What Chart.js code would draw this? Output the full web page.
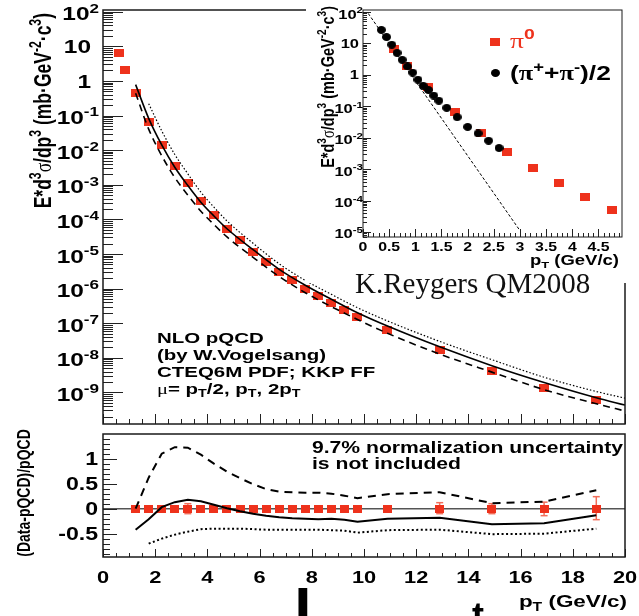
<!DOCTYPE html>
<html lang="en">
<head>
<meta charset="UTF-8">
<title>pi0 cross section vs NLO pQCD</title>
<script src="https://cdn.jsdelivr.net/npm/chart.js@4.4.1/dist/chart.umd.min.js"></script>
<style>
  body { margin: 0; width: 639px; height: 616px; overflow: hidden; position: relative; background: #fff; }
  canvas { position: absolute; }
  #mainChart { left: 0; top: 0; }
  #ratioChart { left: 0; top: 428px; }
  #insetChart { left: 306px; top: 0; background: #fff; }
  .credit { position: absolute; left: 355px; top: 269px; font: 29px "Liberation Serif", "Times New Roman", serif; line-height: 1; color: #111; white-space: nowrap; }
  .frag { position: absolute; font-family: "Liberation Sans", Arial, sans-serif; font-weight: bold; line-height: 1; color: #000; }
</style>
</head>
<body>
<canvas id="mainChart" width="639" height="430"></canvas>
<canvas id="ratioChart" width="639" height="188"></canvas>
<canvas id="insetChart" width="333" height="283"></canvas>
<div class="credit">K.Reygers QM2008</div>
<div class="frag" style="left:294px;top:581px;font-size:64px">l</div>
<div class="frag" style="left:472px;top:598px;font-size:36px">t</div>

<script>
// ---- data ----

// pi0 invariant cross section, main panel (pT in GeV/c, mb GeV^-2 c^3)
const ptPi0 = [0.6, 0.85, 1.25, 1.75, 2.25, 2.75, 3.25, 3.75, 4.25, 4.75, 5.25, 5.75, 6.25, 6.75, 7.25, 7.75, 8.25, 8.75, 9.25, 9.75, 10.9, 12.9, 14.9, 16.9, 18.9];
const xsPi0 = [6.6, 2.0, 0.45, 0.067, 0.0145, 0.0035, 1.1e-3, 3.5e-4, 1.35e-4, 5.4e-5, 2.45e-5, 1.15e-5, 5.8e-6, 3.0e-6, 1.75e-6, 1.0e-6, 5.9e-7, 3.8e-7, 2.4e-7, 1.47e-7, 6.5e-8, 1.72e-8, 4.1e-9, 1.37e-9, 6.1e-10];

// NLO pQCD curves, mu = pT/2 (dotted), pT (solid), 2pT (dashed)
const ptNlo = [1.25, 1.75, 2.25, 2.75, 3.25, 3.75, 4.25, 4.75, 5.75, 6.75, 7.75, 8.75, 9.75, 10.9, 12.9, 14.9, 16.9, 18.9, 20];
const nloHalfPt = [null, 0.22, 0.036, 7.5e-3, 2.07e-3, 6.1e-4, 2.25e-4, 9.0e-5, 2.03e-5, 5.2e-6, 1.72e-6, 6.8e-7, 2.8e-7, 1.16e-7, 2.97e-8, 8.8e-9, 2.74e-9, 1.06e-9, 6.8e-10];
const nloPt = [0.78, 0.083, 0.0141, 3.2e-3, 9.5e-4, 3.13e-4, 1.25e-4, 5.35e-5, 1.33e-5, 3.6e-6, 1.25e-6, 4.9e-7, 2.0e-7, 8.25e-8, 2.07e-8, 5.9e-9, 1.93e-9, 7.0e-10, 4.3e-10];
const nloTwoPt = [0.44, 0.0405, 6.9e-3, 1.62e-3, 5.0e-4, 1.72e-4, 7.1e-5, 3.1e-5, 8.0e-6, 2.24e-6, 7.6e-7, 3.0e-7, 1.28e-7, 5.1e-8, 1.28e-8, 3.85e-9, 1.2e-9, 4.7e-10, 2.9e-10];

// (Data-pQCD)/pQCD panel
const ptRatio = [1.25, 1.75, 2.25, 2.75, 3.25, 3.75, 4.25, 4.75, 5.25, 5.75, 6.25, 6.75, 7.25, 7.75, 8.25, 8.75, 9.25, 9.75, 10.9, 12.9, 14.9, 16.9, 18.9];
const ratioData = [0, 0, 0, 0, 0, 0, 0, 0, 0, 0, 0, 0, 0, 0, 0, 0, 0, 0, 0, 0, 0, 0, 0];
const ratioErrUp = [0.03, 0.03, 0.03, 0.03, 0.1, 0.03, 0.03, 0.03, 0.03, 0.03, 0.03, 0.03, 0.03, 0.03, 0.03, 0.03, 0.03, 0.03, 0.05, 0.12, 0.1, 0.13, 0.24];
const ratioErrDown = [0.03, 0.03, 0.03, 0.03, 0.1, 0.03, 0.03, 0.03, 0.03, 0.03, 0.03, 0.03, 0.03, 0.03, 0.03, 0.03, 0.03, 0.03, 0.05, 0.1, 0.1, 0.14, 0.22];
const ratioHalfPt = [null, -0.7, -0.6, -0.52, -0.46, -0.41, -0.4, -0.4, -0.4, -0.41, -0.42, -0.42, -0.42, -0.42, -0.42, -0.43, -0.44, -0.48, -0.43, -0.42, -0.51, -0.5, -0.4];
const ratioPt = [-0.42, -0.21, 0.03, 0.13, 0.18, 0.15, 0.08, 0.01, -0.05, -0.1, -0.14, -0.17, -0.19, -0.2, -0.21, -0.2, -0.22, -0.26, -0.2, -0.18, -0.31, -0.29, -0.13];
const ratioTwoPt = [0.0, 0.62, 1.1, 1.23, 1.22, 1.08, 0.9, 0.74, 0.61, 0.49, 0.39, 0.34, 0.33, 0.32, 0.32, 0.3, 0.26, 0.21, 0.29, 0.33, 0.11, 0.14, 0.37];
const zeroLineX = [0, 20];
const zeroLineY = [0, 0];

// inset: low pT pi0 and charged pions
const ptPi0Low = [0.6, 0.85, 1.25, 1.75, 2.25, 2.75, 3.25, 3.75, 4.25, 4.75];
const xsPi0Low = [6.5, 1.95, 0.42, 0.067, 0.014, 0.0034, 1.05e-3, 3.5e-4, 1.26e-4, 5.1e-5];
const ptPiCh = [0.35, 0.45, 0.55, 0.65, 0.75, 0.85, 0.95, 1.05, 1.15, 1.25, 1.35, 1.45, 1.6, 1.8, 2.0, 2.2, 2.4, 2.6];
const xsPiCh = [27, 16, 9.1, 5.0, 3.0, 1.85, 1.18, 0.70, 0.45, 0.33, 0.22, 0.15, 0.089, 0.045, 0.022, 0.0137, 0.008, 0.0047];
const ptExpLine = [0.1, 3.0];
const xsExpLine = [90, 1.1e-5];

// tick labels
const mainDecades = [2, 1, 0, -1, -2, -3, -4, -5, -6, -7, -8, -9];
const ptTicks = [0, 2, 4, 6, 8, 10, 12, 14, 16, 18, 20];
const ptTickLabels = ['0', '2', '4', '6', '8', '10', '12', '14', '16', '18', '20'];
const ratioTicks = [-0.5, 0, 0.5, 1];
const ratioTickLabels = ['-0.5', '0', '0.5', '1'];
const insetDecades = [2, 1, 0, -1, -2, -3, -4, -5];
const insetPtTicks = [0, 0.5, 1, 1.5, 2, 2.5, 3, 3.5, 4, 4.5];
const insetPtLabels = ['0', '0.5', '1', '1.5', '2', '2.5', '3', '3.5', '4', '4.5'];

// ---- drawing helpers ----
const SX = 1.32; // the figure is stretched sideways
const SANS = '"Liberation Sans", Arial, Helvetica, sans-serif';
const SERIF = '"Liberation Serif", "Times New Roman", serif';
const RED = 'rgb(238, 50, 28)';

function marker(w, h, color, round) {
  const c = document.createElement('canvas');
  c.width = w; c.height = h;
  const g = c.getContext('2d');
  g.fillStyle = color;
  if (round) {
    g.beginPath();
    g.ellipse(w / 2, h / 2, w / 2, h / 2, 0, 0, Math.PI * 2);
    g.fill();
  } else {
    g.fillRect(0, 0, w, h);
  }
  return c;
}
const redSquare = marker(10, 8, RED);
const redSquareSmall = marker(9, 8, RED);
const blackDot = marker(9, 8, '#000', true);

// text with super/subscripts, optionally rotated
function rich(ctx, parts, x, y, o) {
  const size = o.size;
  const font = p => `${p.normal ? '' : 'bold '}${(p.sup || p.sub) ? size * 0.7 : size}px ${p.face || SANS}`;
  let total = 0;
  const items = parts.map(p => {
    ctx.font = font(p);
    const it = { p, off: total };
    total += ctx.measureText(p.t).width;
    return it;
  });
  ctx.save();
  ctx.translate(x, y);
  ctx.scale(o.sx || SX, 1);
  if (o.rotate) ctx.rotate(o.rotate);
  const start = o.align === 'right' ? -total : o.align === 'center' ? -total / 2 : 0;
  ctx.textAlign = 'left';
  ctx.textBaseline = 'alphabetic';
  items.forEach(it => {
    ctx.font = font(it.p);
    ctx.fillStyle = it.p.color || o.color || '#000';
    const dy = it.p.sup ? -size * 0.42 : it.p.sub ? size * 0.22 : 0;
    ctx.fillText(it.p.t, start + it.off, dy);
  });
  ctx.restore();
}

const Y_TITLE = [
  { t: 'E*d' }, { t: '3', sup: true }, { t: 'σ', face: SERIF, normal: true }, { t: '/dp' }, { t: '3', sup: true },
  { t: ' (mb·GeV' }, { t: '-2', sup: true }, { t: '·c' }, { t: '3', sup: true }, { t: ')' }
];
const PT_TITLE = [{ t: 'p' }, { t: 'T', sub: true }, { t: ' (GeV/c)' }];

function range(from, to, step) {
  const out = [];
  for (let v = from; v <= to + step / 1000; v += step) out.push(Math.round(v * 1000) / 1000);
  return out;
}
function logMinors(e0, e1) {
  const out = [];
  for (let e = e0; e <= e1; e++) for (let k = 2; k <= 9; k++) out.push(k * Math.pow(10, e));
  return out;
}
function yTicks(chart, values, len) {
  const { ctx, chartArea: a, scales: { y } } = chart;
  ctx.save();
  ctx.strokeStyle = '#222';
  ctx.lineWidth = 1;
  ctx.beginPath();
  values.forEach(v => {
    if (v < y.min || v > y.max) return;
    const py = Math.round(y.getPixelForValue(v)) + 0.5;
    ctx.moveTo(a.left, py);
    ctx.lineTo(a.left + len, py);
  });
  ctx.stroke();
  ctx.restore();
}
function xTicks(chart, values, len) {
  const { ctx, chartArea: a, scales: { x } } = chart;
  ctx.save();
  ctx.strokeStyle = '#222';
  ctx.lineWidth = 1;
  ctx.beginPath();
  values.forEach(v => {
    if (v < x.min || v > x.max) return;
    const px = Math.round(x.getPixelForValue(v)) + 0.5;
    ctx.moveTo(px, a.bottom);
    ctx.lineTo(px, a.bottom - len);
  });
  ctx.stroke();
  ctx.restore();
}
function frame(chart, lw) {
  const { ctx, chartArea: a } = chart;
  ctx.save();
  ctx.strokeStyle = '#1a1a1a';
  ctx.lineWidth = lw;
  ctx.strokeRect(a.left, a.top, a.right - a.left, a.bottom - a.top);
  ctx.restore();
}
function decadeLabel(ctx, e, py, xPlain, xSup, size) {
  if (e === 1 || e === 0) {
    rich(ctx, [{ t: e ? '10' : '1' }], xPlain, py + size * 0.36, { size, align: 'right' });
  } else {
    rich(ctx, [{ t: '10' }, { t: String(e), sup: true }], xSup, py + size * 0.36 + 2, { size, align: 'right' });
  }
}

// ---- panel decorations ----
function mainDecor(chart) {
  const { ctx, scales: { y } } = chart;
  yTicks(chart, logMinors(-10, 1), 10);
  yTicks(chart, mainDecades.map(e => Math.pow(10, e)), 20);
  xTicks(chart, range(0, 20, 0.5), 5);
  xTicks(chart, ptTicks, 10);
  frame(chart, 1.5);
  mainDecades.forEach(e => decadeLabel(ctx, e, y.getPixelForValue(Math.pow(10, e)), 91, 99, 18.5));
  rich(ctx, Y_TITLE, 51, 13, { size: 17.5, rotate: -Math.PI / 2, align: 'right' });
  rich(ctx, [{ t: 'NLO pQCD' }], 157, 343, { size: 15.5 });
  rich(ctx, [{ t: '(by W.Vogelsang)' }], 157, 360, { size: 15.5 });
  rich(ctx, [{ t: 'CTEQ6M PDF; KKP FF' }], 157, 377, { size: 15.5 });
  rich(ctx, [
    { t: 'μ', face: SERIF, normal: true }, { t: '= p' }, { t: 'T', sub: true }, { t: '/2, p' },
    { t: 'T', sub: true }, { t: ', 2p' }, { t: 'T', sub: true }
  ], 157, 394, { size: 15.5 });
}

function ratioDecor(chart) {
  const { ctx, scales: { x, y } } = chart;
  yTicks(chart, range(-0.9, 1.4, 0.1), 7);
  yTicks(chart, ratioTicks, 14);
  xTicks(chart, range(0, 20, 0.5), 4);
  xTicks(chart, ptTicks, 8);
  frame(chart, 1.5);
  ratioTicks.forEach((v, i) => rich(ctx, [{ t: ratioTickLabels[i] }], 98, y.getPixelForValue(v) + 6.5, { size: 17.5, align: 'right' }));
  ptTicks.forEach((v, i) => rich(ctx, [{ t: ptTickLabels[i] }], x.getPixelForValue(v), 155, { size: 16.5, align: 'center' }));
  rich(ctx, PT_TITLE, 627, 179, { size: 17, align: 'right' });
  rich(ctx, [{ t: '(Data-pQCD)/pQCD' }], 30, 65, { size: 14, rotate: -Math.PI / 2, align: 'center' });
  rich(ctx, [{ t: '9.7% normalization uncertainty' }], 312, 25, { size: 16 });
  rich(ctx, [{ t: 'is not included' }], 312, 41, { size: 16 });
}

function insetDecor(chart) {
  const { ctx, scales: { x, y } } = chart;
  yTicks(chart, logMinors(-6, 1), 4);
  yTicks(chart, insetDecades.map(e => Math.pow(10, e)), 8);
  xTicks(chart, range(0, 4.9, 0.1), 4);
  xTicks(chart, insetPtTicks, 8);
  frame(chart, 1);
  insetDecades.forEach(e => decadeLabel(ctx, e, y.getPixelForValue(Math.pow(10, e)), 53, 57, 12.5));
  insetPtTicks.forEach((v, i) => rich(ctx, [{ t: insetPtLabels[i] }], x.getPixelForValue(v), 251, { size: 12, align: 'center' }));
  rich(ctx, PT_TITLE, 313, 265, { size: 14, align: 'right' });
  rich(ctx, Y_TITLE, 28, 6, { size: 14.5, rotate: -Math.PI / 2, align: 'right' });
  // legend
  ctx.drawImage(redSquare, 184, 38);
  ctx.drawImage(blackDot, 185, 69);
  rich(ctx, [{ t: 'π', face: SERIF, normal: true, color: RED }, { t: '0', sup: true, color: RED }], 204, 48, { size: 21 });
  rich(ctx, [
    { t: '(' }, { t: 'π', face: SERIF }, { t: '+', sup: true }, { t: '+' }, { t: 'π', face: SERIF },
    { t: '-', sup: true }, { t: ')/2' }
  ], 204, 80, { size: 20 });
}

// ---- charts ----
function pts(xs, ys) {
  return xs.map((x, i) => ({ x, y: ys[i] }));
}
function options(xMax, yType, yMin, yMax, padding) {
  return {
    responsive: false,
    animation: false,
    devicePixelRatio: 1,
    layout: { padding },
    plugins: { legend: { display: false }, tooltip: { enabled: false } },
    scales: {
      x: { type: 'linear', min: 0, max: xMax, display: false },
      y: { type: yType, min: yMin, max: yMax, display: false }
    }
  };
}
function curve(data, width, dash, extra) {
  return Object.assign({ data, showLine: true, borderColor: '#000', borderWidth: width, borderDash: dash, pointRadius: 0, fill: false }, extra);
}

new Chart(document.getElementById('mainChart'), {
  type: 'scatter',
  data: {
    datasets: [
      curve(pts(ptNlo, nloPt), 1.6, [], { cubicInterpolationMode: 'monotone' }),
      curve(pts(ptNlo, nloTwoPt), 1.6, [7, 5], { cubicInterpolationMode: 'monotone' }),
      curve(pts(ptNlo, nloHalfPt), 1.2, [1.5, 2], { cubicInterpolationMode: 'monotone' }),
      { data: pts(ptPi0, xsPi0), pointStyle: redSquare, pointRadius: 5 }
    ]
  },
  options: options(20, 'logarithmic', 1.22e-10, 112, { left: 103, right: 14, top: 10, bottom: 1 }),
  plugins: [{ id: 'mainDecor', afterDraw: mainDecor }]
});

const errBars = [];
ptRatio.forEach((x, i) => {
  errBars.push({ x, y: -ratioErrDown[i] }, { x, y: ratioErrUp[i] }, { x, y: null });
});

new Chart(document.getElementById('ratioChart'), {
  type: 'scatter',
  data: {
    datasets: [
      curve(pts(ptRatio, ratioPt), 2, []),
      curve(pts(ptRatio, ratioTwoPt), 2, [8, 6]),
      curve(pts(ptRatio, ratioHalfPt), 2, [2, 2.5]),
      { data: pts(ptRatio, ratioData), pointStyle: redSquareSmall, pointRadius: 5 },
      curve(errBars, 1.5, [], { borderColor: 'rgb(242, 110, 90)', pointStyle: 'line', pointRadius: 3.5, pointBorderWidth: 1.5, pointBorderColor: 'rgb(242, 110, 90)' }),
      curve(pts(zeroLineX, zeroLineY), 1.5, [], { borderColor: '#555' })
    ]
  },
  options: options(20, 'linear', -0.967, 1.494, { left: 103, right: 14, top: 1, bottom: 59 }),
  plugins: [{ id: 'ratioDecor', afterDraw: ratioDecor }]
});

new Chart(document.getElementById('insetChart'), {
  type: 'scatter',
  data: {
    datasets: [
      { data: pts(ptPiCh, xsPiCh), pointStyle: blackDot, pointRadius: 5 },
      { data: pts(ptPi0Low, xsPi0Low), pointStyle: redSquare, pointRadius: 5 },
      curve(pts(ptExpLine, xsExpLine), 1, [3, 2])
    ]
  },
  options: options(4.95, 'logarithmic', 6.9e-6, 116, { left: 57, right: 17, top: 10, bottom: 46 }),
  plugins: [{ id: 'insetDecor', afterDraw: insetDecor }]
});
</script>
</body>
</html>
